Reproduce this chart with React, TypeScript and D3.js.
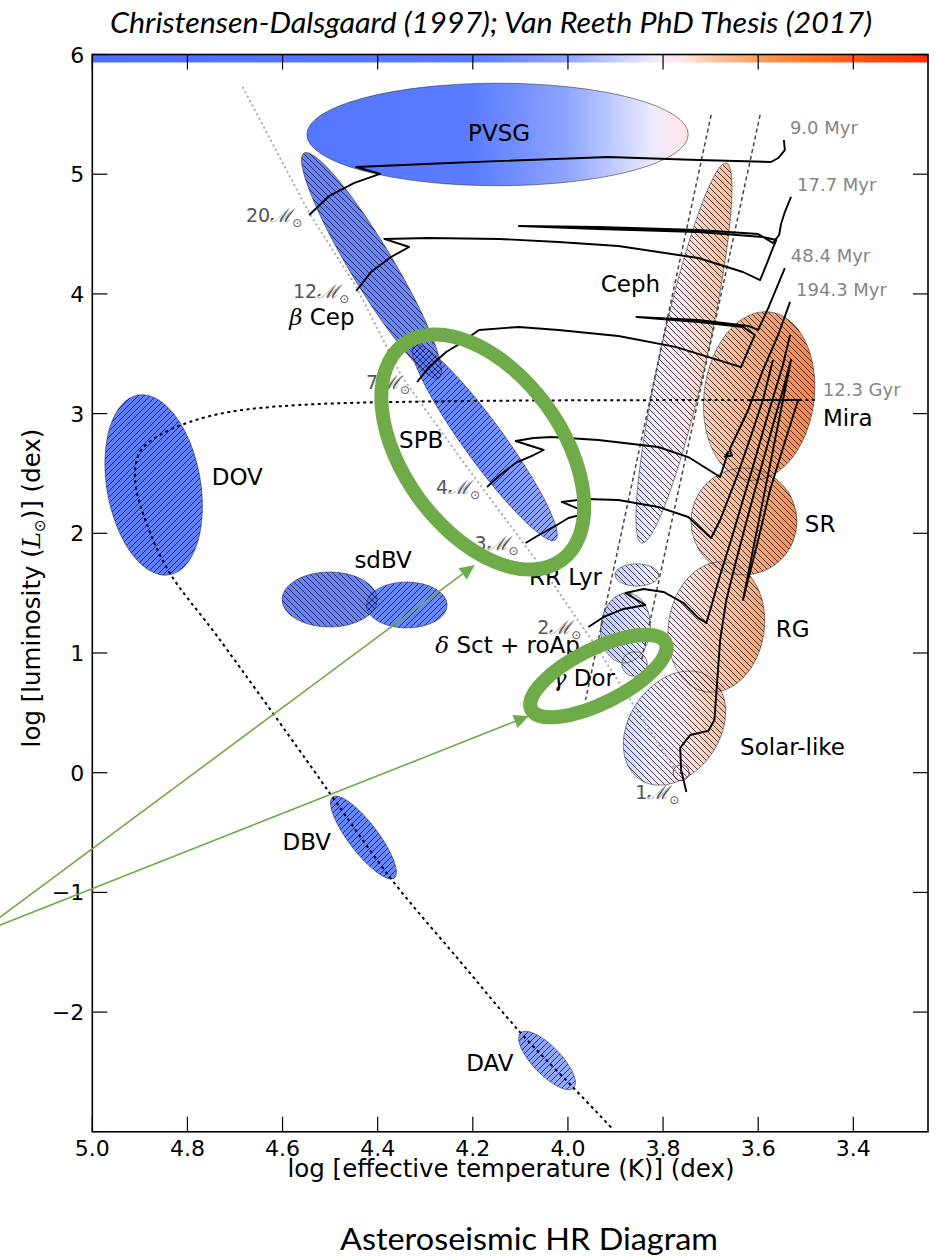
import React from 'react';
import * as d3 from 'd3';

const W = 937;
const H = 1258;

// axes
const xDomain = [5.0, 3.243];
const yDomain = [-3, 6];
const xTicks = [5.0, 4.8, 4.6, 4.4, 4.2, 4.0, 3.8, 3.6, 3.4];
const yTicks = [-2, -1, 0, 1, 2, 3, 4, 5, 6];

// temperature colour map (log Teff -> colour)
const cmapT = [5.0, 4.2, 4.0, 3.9, 3.82, 3.76, 3.7, 3.6, 3.5, 3.4, 3.243];
const cmapColors = ['#4c6eff', '#5b7cff', '#8fa5ff', '#c2cdff', '#efeaff', '#ffe6ea', '#fcc7a6', '#fa9f5e', '#ff7b2c', '#ff5816', '#ff2c00'];

// pulsator regions: centre (logT, logL), end of major axis (logT, logL), minor/major ratio
const regionNames = ['PVSG', 'bCep', 'SPB', 'Ceph', 'Mira', 'SR', 'RG', 'Solar', 'dSct', 'gDor', 'RRLyr', 'DOV', 'sdBV1', 'sdBV2', 'DBV', 'DAV'];
const regionCenter: [number, number][] = [
  [4.148, 5.332], [4.413, 4.237], [4.175, 2.759], [3.756, 3.506], [3.598, 3.147], [3.630, 2.099],
  [3.688, 1.217], [3.776, 0.373], [3.879, 1.209], [3.860, 0.908], [3.855, 1.652], [4.871, 2.404],
  [4.501, 1.447], [4.339, 1.401], [4.430, -0.541], [4.044, -2.404],
];
const regionTip: [number, number][] = [
  [3.747, 5.332], [4.271, 3.297], [4.026, 1.944], [3.667, 5.094], [3.575, 3.849], [3.630, 2.546],
  [3.667, 1.760], [3.702, 0.800], [3.873, 1.501], [3.833, 0.908], [3.809, 1.652], [4.904, 3.155],
  [4.401, 1.447], [4.254, 1.401], [4.365, -0.880], [3.988, -2.634],
];
const regionRatio = [0.269, 0.164, 0.166, 0.12, 0.65, 0.99, 0.73, 0.73, 0.71, 0.96, 0.51, 0.514, 0.58, 0.57, 0.29, 0.37];

// region labels
const labelTexts = ['PVSG', 'Cep', 'SPB', 'Ceph', 'Mira', 'SR', 'RG', 'Solar-like', 'Dor', 'Sct + roAp', 'RR Lyr', 'DOV', 'sdBV', 'DBV', 'DAV'];
const labelGreek = ['', 'β', '', '', '', '', '', '', 'γ', 'δ', '', '', '', '', ''];
const labelPos: [number, number][] = [
  [4.210, 5.277], [4.586, 3.740], [4.355, 2.713], [3.931, 4.016], [3.464, 2.897], [3.502, 2.011],
  [3.563, 1.134], [3.638, 0.148], [4.032, 0.724], [4.279, 1.000], [4.082, 1.568], [4.749, 2.404],
  [4.449, 1.710], [4.600, -0.645], [4.214, -2.492],
];

// evolutionary tracks (logT, logL)
const track20: [number, number][] = [
  [4.544, 4.659], [4.502, 4.818], [4.449, 4.927], [4.395, 5.002], [4.445, 5.060], [4.250, 5.094],
  [3.915, 5.144], [3.726, 5.119], [3.573, 5.102], [3.558, 5.135], [3.544, 5.202], [3.546, 5.286],
];
const track12: [number, number][] = [
  [4.445, 4.024], [4.414, 4.183], [4.372, 4.308], [4.334, 4.392], [4.386, 4.459], [4.292, 4.467],
  [4.145, 4.459], [4.020, 4.434], [3.894, 4.400], [3.726, 4.300], [3.632, 4.183], [3.596, 4.116],
  [3.583, 4.242], [3.569, 4.384], [3.562, 4.450], [3.590, 4.475], [3.726, 4.517], [3.936, 4.542],
  [4.103, 4.567], [3.936, 4.559], [3.726, 4.534], [3.600, 4.500], [3.569, 4.425], [3.556, 4.492],
  [3.552, 4.584], [3.544, 4.684], [3.531, 4.810],
];
const track7: [number, number][] = [
  [4.317, 3.264], [4.292, 3.389], [4.256, 3.515], [4.225, 3.590], [4.187, 3.699], [4.103, 3.724],
  [4.020, 3.699], [3.894, 3.648], [3.774, 3.557], [3.636, 3.389], [3.621, 3.531], [3.607, 3.657],
  [3.632, 3.724], [3.726, 3.765], [3.856, 3.807], [3.726, 3.782], [3.621, 3.732], [3.600, 3.699],
  [3.579, 3.882], [3.563, 4.033], [3.544, 4.216],
];
const track4: [number, number][] = [
  [4.170, 2.387], [4.145, 2.479], [4.110, 2.588], [4.072, 2.654], [4.051, 2.696], [4.110, 2.771],
  [4.072, 2.796], [4.034, 2.805], [3.936, 2.779], [3.810, 2.721], [3.747, 2.637], [3.680, 2.470],
  [3.663, 2.680], [3.670, 2.640], [3.655, 2.650], [3.660, 2.700], [3.621, 3.030], [3.590, 3.364],
  [3.558, 3.657], [3.533, 3.933],
];
const track3: [number, number][] = [
  [4.089, 1.919], [4.061, 1.986], [4.030, 2.053], [3.999, 2.128], [3.957, 2.170], [4.013, 2.262],
  [3.963, 2.287], [3.894, 2.278], [3.810, 2.220], [3.747, 2.136], [3.699, 1.961], [3.680, 2.111],
  [3.642, 2.504], [3.611, 2.863], [3.590, 3.114], [3.569, 3.448],
];
const track2: [number, number][] = [
  [3.957, 1.217], [3.925, 1.301], [3.883, 1.368], [3.837, 1.401], [3.879, 1.501], [3.841, 1.535],
  [3.799, 1.510], [3.757, 1.418], [3.726, 1.293], [3.709, 1.251], [3.699, 1.384], [3.680, 1.652],
  [3.657, 1.944], [3.632, 2.278], [3.607, 2.612], [3.586, 2.905], [3.567, 3.156], [3.548, 3.406],
  [3.533, 3.657],
];
const track1: [number, number][] = [
  [3.751, -0.161], [3.762, 0.023], [3.764, 0.207], [3.743, 0.315], [3.705, 0.349], [3.692, 0.441],
  [3.686, 0.775], [3.680, 1.109], [3.667, 1.443], [3.646, 1.777], [3.621, 2.153], [3.594, 2.545],
  [3.569, 2.905], [3.548, 3.197], [3.531, 3.448], [3.632, 1.443], [3.600, 1.944], [3.575, 2.362],
  [3.546, 2.738], [3.516, 3.114], [3.617, 3.114],
];
const tracks = [track20, track12, track7, track4, track3, track2, track1];
const trackMasses = ['20', '12', '7', '4', '3', '2', '1'];
const trackAges = ['9.0 Myr', '17.7 Myr', '48.4 Myr', '194.3 Myr', '', '', ''];

// white dwarf cooling sequence (post-AGB)
const coolingTrack: [number, number][] = [
  [3.481, 3.113], [4.208, 3.105], [4.565, 3.072], [4.711, 3.014], [4.795, 2.930], [4.858, 2.821],
  [4.900, 2.679], [4.910, 2.445], [4.883, 2.052], [4.837, 1.668], [4.736, 1.133], [4.550, 0.106],
  [4.495, -0.203], [4.370, -0.896], [4.229, -1.565], [4.099, -2.175], [3.988, -2.634], [3.904, -2.985],
];
const coolingAge = '12.3 Gyr';

// zero-age main sequence
const zams: [number, number][] = [
  [4.684, 5.729], [4.544, 4.676], [4.445, 4.058], [4.349, 3.307], [4.208, 2.529], [4.047, 1.668],
  [3.936, 1.025], [3.768, -0.019],
];

// classical instability strip edges
const stripBlue: [number, number][] = [[3.699, 5.495], [3.963, 0.608]];
const stripRed: [number, number][] = [[3.596, 5.495], [3.845, 0.942]];

// the Sun
const sun: [number, number] = [3.762, 0.0];

// green highlight annotations
const highlightCenter: [number, number][] = [[4.179, 2.679], [3.936, 0.808]];
const highlightTip: [number, number][] = [[4.013, 1.777], [3.795, 1.088]];
const highlightRatio = [0.59, 0.36];
const arrowStart: [number, number] = [5.2417, -1.348];
const arrowTips: [number, number][] = [[4.196, 1.735], [4.082, 0.474]];

const hatchDir: Record<string, string> = {
  PVSG: '', bCep: 'b', SPB: 'f', Ceph: 'b', Mira: 'b', SR: 'b', RG: 'b', Solar: 'b', dSct: 'b',
  gDor: 'b', RRLyr: 'b', DOV: 'f', sdBV1: 'b', sdBV2: 'f', DBV: 'f', DAV: 'f',
};

const L = 92.3, R = 928, T = 54.5, B = 1131.8;
const x = d3.scaleLinear().domain(xDomain).range([L, R]);
const y = d3.scaleLinear().domain(yDomain).range([B, T]);

function ellipsePath(c: [number, number], tip: [number, number], ratio: number) {
  const cx = x(c[0]), cy = y(c[1]), tx = x(tip[0]), ty = y(tip[1]);
  const a = Math.hypot(tx - cx, ty - cy);
  const b = a * ratio;
  const ang = (Math.atan2(ty - cy, tx - cx) * 180) / Math.PI;
  const ox = 2 * cx - tx, oy = 2 * cy - ty;
  return `M${tx},${ty} A${a},${b} ${ang} 0 1 ${ox},${oy} A${a},${b} ${ang} 0 1 ${tx},${ty} Z`;
}

const line = d3.line<[number, number]>().x((d) => x(d[0])).y((d) => y(d[1]));
const smoothLine = d3.line<[number, number]>().x((d) => x(d[0])).y((d) => y(d[1])).curve(d3.curveCatmullRom.alpha(0.5));

const SANS = 'DejaVu Sans, sans-serif';
const SERIF = 'DejaVu Serif, serif';

export default function App() {
  const g0 = x(cmapT[0]);
  const g1 = x(cmapT[cmapT.length - 1]);
  const stops = cmapT.map((t, i) => ({ off: (x(t) - g0) / (g1 - g0), c: cmapColors[i] }));
  const fmtX = d3.format('.1f');
  const fmtY = (v: number) => (v < 0 ? '\u2212' + Math.abs(v) : String(v));

  const arrows = arrowTips.map((tip) => {
    const sx = x(arrowStart[0]), sy = y(arrowStart[1]);
    const tx = x(tip[0]), ty = y(tip[1]);
    const ang = Math.atan2(ty - sy, tx - sx);
    const len = 15, hw = 7;
    const bx = tx - len * Math.cos(ang), by = ty - len * Math.sin(ang);
    const p1 = [bx + hw * Math.sin(ang), by - hw * Math.cos(ang)];
    const p2 = [bx - hw * Math.sin(ang), by + hw * Math.cos(ang)];
    return { sx, sy, tx, ty, bx, by, head: `M${tx},${ty} L${p1[0]},${p1[1]} L${p2[0]},${p2[1]} Z` };
  });

  return (
    <div style={{ position: 'absolute', left: 0, top: 0 }}>
      <svg width={W} height={H} style={{ display: 'block', background: '#fff' }}>
        <defs>
          <linearGradient id="tgrad" gradientUnits="userSpaceOnUse" x1={g0} x2={g1} y1={0} y2={0}>
            {stops.map((s, i) => (
              <stop key={i} offset={s.off} stopColor={s.c} />
            ))}
          </linearGradient>
          <pattern id="hatchF" patternUnits="userSpaceOnUse" width={6} height={6}>
            <path d="M0,6 L6,0 M-1.5,1.5 L1.5,-1.5 M4.5,7.5 L7.5,4.5" stroke="#111122" strokeWidth={0.9} opacity={0.85} />
          </pattern>
          <pattern id="hatchB" patternUnits="userSpaceOnUse" width={6} height={6}>
            <path d="M0,0 L6,6 M-1.5,4.5 L1.5,7.5 M4.5,-1.5 L7.5,1.5" stroke="#111122" strokeWidth={0.9} opacity={0.85} />
          </pattern>
          <clipPath id="plotClip">
            <rect x={L} y={T} width={R - L} height={B - T} />
          </clipPath>
        </defs>

        <rect x={0} y={0} width={W} height={H} fill="#fff" />

        {/* title */}
        <text x={491} y={33} textAnchor="middle" fontFamily="Lato, sans-serif" fontStyle="italic" fontSize={28}
          textLength={762} lengthAdjust="spacingAndGlyphs">
          Christensen-Dalsgaard (1997); Van Reeth PhD Thesis (2017)
        </text>

        <g clipPath="url(#plotClip)">
          {/* colour bar */}
          <rect x={L} y={T} width={R - L} height={8} fill="url(#tgrad)" />

          {/* region fills */}
          {regionNames.map((n, i) => (
            <path key={'f' + n} d={ellipsePath(regionCenter[i], regionTip[i], regionRatio[i])}
              fill="url(#tgrad)" fillOpacity={n === 'PVSG' ? 1 : 0.9} />
          ))}
          {/* hatches and edges */}
          {regionNames.map((n, i) => (
            <path key={'h' + n} d={ellipsePath(regionCenter[i], regionTip[i], regionRatio[i])}
              fill={hatchDir[n] === 'f' ? 'url(#hatchF)' : hatchDir[n] === 'b' ? 'url(#hatchB)' : 'none'}
              stroke="#222" strokeWidth={0.7} strokeOpacity={0.75} />
          ))}

          {/* ZAMS */}
          <path d={line(zams) || ''} fill="none" stroke="#aaaaaa" strokeWidth={2} strokeDasharray="2,3" />
          {/* instability strip */}
          <path d={line(stripBlue) || ''} fill="none" stroke="#444" strokeWidth={1.5} strokeDasharray="4,3" />
          <path d={line(stripRed) || ''} fill="none" stroke="#444" strokeWidth={1.5} strokeDasharray="4,3" />
          {/* cooling */}
          <path d={smoothLine(coolingTrack) || ''} fill="none" stroke="#000" strokeWidth={2} strokeDasharray="3,3.5" />
          {/* tracks */}
          {tracks.map((t, i) => (
            <path key={'t' + i} d={line(t) || ''} fill="none" stroke="#000" strokeWidth={1.9} strokeLinejoin="round" />
          ))}
          {/* sun */}
          <circle cx={x(sun[0])} cy={y(sun[1])} r={8} fill="none" stroke="#333" strokeWidth={0.8} />
          <circle cx={x(sun[0])} cy={y(sun[1])} r={1.6} fill="#333" />

          {/* mass labels */}
          {tracks.map((t, i) => (
            <text key={'m' + i} x={x(t[0][0]) - 7} y={y(t[0][1]) + 7} textAnchor="end" fontFamily={SANS}
              fontSize={19} fill="#555">
              {trackMasses[i]}
              <tspan fontFamily={SERIF} fontStyle="italic">ℳ</tspan>
              <tspan fontSize={12} dy={5}>⊙</tspan>
            </text>
          ))}
          {/* age labels */}
          {tracks.map((t, i) =>
            trackAges[i] ? (
              <text key={'a' + i} x={x(t[t.length - 1][0]) + 6} y={y(t[t.length - 1][1]) - 6} fontFamily={SANS}
                fontSize={18} fill="#858585">
                {trackAges[i]}
              </text>
            ) : null
          )}
          <text x={x(coolingTrack[0][0]) + 8} y={y(coolingTrack[0][1]) - 4} fontFamily={SANS} fontSize={18} fill="#858585">
            {coolingAge}
          </text>

          {/* region labels */}
          {labelTexts.map((s, i) => (
            <text key={'l' + i} x={x(labelPos[i][0])} y={y(labelPos[i][1])} fontFamily={SANS} fontSize={23} fill="#000">
              {labelGreek[i] ? (
                <tspan fontFamily={SERIF} fontStyle="italic">{labelGreek[i] + ' '}</tspan>
              ) : null}
              {s}
            </text>
          ))}
        </g>

        {/* spines */}
        <rect x={L} y={T} width={R - L} height={B - T} fill="none" stroke="#000" strokeWidth={1.6} />
        {/* ticks */}
        {xTicks.map((v) => (
          <g key={'xt' + v}>
            <line x1={x(v)} x2={x(v)} y1={B} y2={B - 15} stroke="#000" strokeWidth={1.2} />
            <line x1={x(v)} x2={x(v)} y1={T} y2={T + 15} stroke="#000" strokeWidth={1.2} />
            <text x={x(v)} y={B + 24} textAnchor="middle" fontFamily={SANS} fontSize={22}>{fmtX(v)}</text>
          </g>
        ))}
        {yTicks.map((v) => (
          <g key={'yt' + v}>
            <line x1={L} x2={L + 15} y1={y(v)} y2={y(v)} stroke="#000" strokeWidth={1.2} />
            <line x1={R} x2={R - 15} y1={y(v)} y2={y(v)} stroke="#000" strokeWidth={1.2} />
            <text x={L - 8} y={y(v) + 8} textAnchor="end" fontFamily={SANS} fontSize={22}>{fmtY(v)}</text>
          </g>
        ))}

        {/* axis labels */}
        <text x={511} y={1177} textAnchor="middle" fontFamily={SANS} fontSize={24.5}>
          log [effective temperature (K)] (dex)
        </text>
        <text transform="rotate(-90)" x={-588} y={40} textAnchor="middle" fontFamily={SANS} fontSize={24.5}>
          log [luminosity (<tspan fontFamily={SERIF} fontStyle="italic">L</tspan>
          <tspan fontSize={15} dy={5}>⊙</tspan>
          <tspan dy={-5}>)] (dex)</tspan>
        </text>

        {/* green highlights */}
        {highlightCenter.map((c, i) => (
          <path key={'g' + i} d={ellipsePath(c, highlightTip[i], highlightRatio[i])} fill="none" stroke="#6fab48"
            strokeWidth={14} />
        ))}
        {arrows.map((a, i) => (
          <g key={'ar' + i}>
            <line x1={a.sx} y1={a.sy} x2={a.bx} y2={a.by} stroke="#6fab48" strokeWidth={1.6} />
            <path d={a.head} fill="#6fab48" />
          </g>
        ))}

        {/* bottom title */}
        <text x={529} y={1250} textAnchor="middle" fontFamily="Lato, sans-serif" fontSize={30} textLength={378}
          lengthAdjust="spacingAndGlyphs">
          Asteroseismic HR Diagram
        </text>
      </svg>
    </div>
  );
}
